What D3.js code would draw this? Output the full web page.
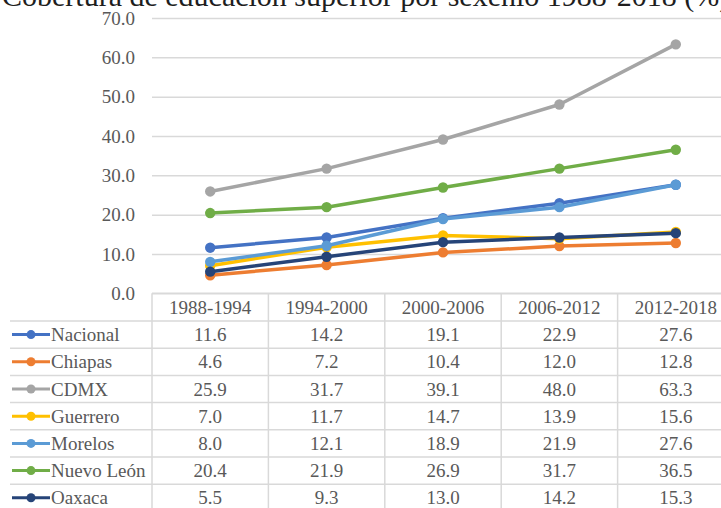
<!DOCTYPE html>
<html><head><meta charset="utf-8">
<script src="https://cdn.jsdelivr.net/npm/d3@7"></script>
<style>body{margin:0;background:#fff;overflow:hidden}svg{display:block}</style>
</head><body>
<svg id="c" width="721" height="508"></svg>
<script>
const title = "Cobertura de educación superior por sexenio 1988-2018 (%)";
const categories = ["1988-1994","1994-2000","2000-2006","2006-2012","2012-2018"];
const seriesNames = ["Nacional","Chiapas","CDMX","Guerrero","Morelos","Nuevo León","Oaxaca"];
const nacional  = [11.6,14.2,19.1,22.9,27.6];
const chiapas   = [4.6,7.2,10.4,12.0,12.8];
const cdmx      = [25.9,31.7,39.1,48.0,63.3];
const guerrero  = [7.0,11.7,14.7,13.9,15.6];
const morelos   = [8.0,12.1,18.9,21.9,27.6];
const nuevoLeon = [20.4,21.9,26.9,31.7,36.5];
const oaxaca    = [5.5,9.3,13.0,14.2,15.3];
const yTicks = [0,10,20,30,40,50,60,70];
const colors = ["#4472C4","#ED7D31","#A5A5A5","#FFC000","#5B9BD5","#70AD47","#264478"];

const series = seriesNames.map((n,i)=>({name:n,values:[nacional,chiapas,cdmx,guerrero,morelos,nuevoLeon,oaxaca][i],color:colors[i]}));

const svg = d3.select("#c");
const font = "'Liberation Serif','Times New Roman',serif";
const textCol = "#595959";
const gridCol = "#d9d9d9";
const fs = 19;

const left = 152, right = 734;
const x = d3.scaleBand().domain(categories).range([left,right]).padding(0);
const y = d3.scaleLinear().domain([0,70]).range([293.3,18]);

// title
svg.append("text").attr("x",2).attr("y",6).attr("font-family",font).attr("font-size",30)
  .attr("fill","#1e1e1e").text(title);

// y axis with gridlines
const yAxis = d3.axisLeft(y).tickValues(yTicks).tickFormat(d3.format(".1f"))
  .tickSizeInner(-(right-left)).tickSizeOuter(0).tickPadding(17);
const ga = svg.append("g").attr("transform",`translate(${left},0)`).call(yAxis);
ga.attr("font-family",font);
ga.select(".domain").remove();
ga.selectAll(".tick line").attr("stroke",gridCol).attr("stroke-width",1.5);
ga.selectAll(".tick text").attr("font-family",font).attr("font-size",fs).attr("fill",textCol);

// table
const tableTop = y(0);
const headerH = 27.7;
const rowH = 27.2;
const tbl = svg.append("g");
tbl.append("line").attr("x1",left).attr("x2",right).attr("y1",tableTop).attr("y2",tableTop)
  .attr("stroke",gridCol).attr("stroke-width",1.5);
for(let i=0;i<=series.length;i++){
  const yy = tableTop+headerH+i*rowH;
  tbl.append("line").attr("x1",10).attr("x2",right).attr("y1",yy).attr("y2",yy)
    .attr("stroke",gridCol).attr("stroke-width",1.5);
}
categories.forEach(c=>{
  tbl.append("line").attr("x1",x(c)).attr("x2",x(c)).attr("y1",tableTop).attr("y2",tableTop+headerH+series.length*rowH)
    .attr("stroke",gridCol).attr("stroke-width",1.5);
});
tbl.selectAll("text.hdr").data(categories).join("text").attr("class","hdr")
  .attr("x",d=>x(d)+x.bandwidth()/2).attr("y",tableTop+headerH/2).attr("dy","0.35em")
  .attr("text-anchor","middle").attr("font-family",font).attr("font-size",fs).attr("fill",textCol)
  .text(d=>d);
series.forEach((s,i)=>{
  const cy = tableTop+headerH+i*rowH+rowH/2;
  tbl.append("line").attr("x1",12).attr("x2",50).attr("y1",cy).attr("y2",cy)
    .attr("stroke",s.color).attr("stroke-width",3);
  tbl.append("circle").attr("cx",31).attr("cy",cy).attr("r",4.5).attr("fill",s.color);
  tbl.append("text").attr("x",51).attr("y",cy).attr("dy","0.35em").attr("font-family",font)
    .attr("font-size",fs).attr("fill",textCol).text(s.name);
  categories.forEach((c,j)=>{
    tbl.append("text").attr("x",x(c)+x.bandwidth()/2).attr("y",cy).attr("dy","0.35em")
      .attr("text-anchor","middle").attr("font-family",font).attr("font-size",fs).attr("fill",textCol)
      .text(d3.format(".1f")(s.values[j]));
  });
});

// lines
const line = d3.line().x((d,i)=>x(categories[i])+x.bandwidth()/2).y(d=>y(d));
series.forEach(s=>{
  const g = svg.append("g");
  g.append("path").attr("d",line(s.values)).attr("fill","none").attr("stroke",s.color)
    .attr("stroke-width",3.5).attr("stroke-linejoin","round").attr("stroke-linecap","round");
  g.selectAll("circle").data(s.values).join("circle")
    .attr("cx",(d,i)=>x(categories[i])+x.bandwidth()/2).attr("cy",d=>y(d)).attr("r",5.2)
    .attr("fill",s.color);
});
</script>
</body></html>
